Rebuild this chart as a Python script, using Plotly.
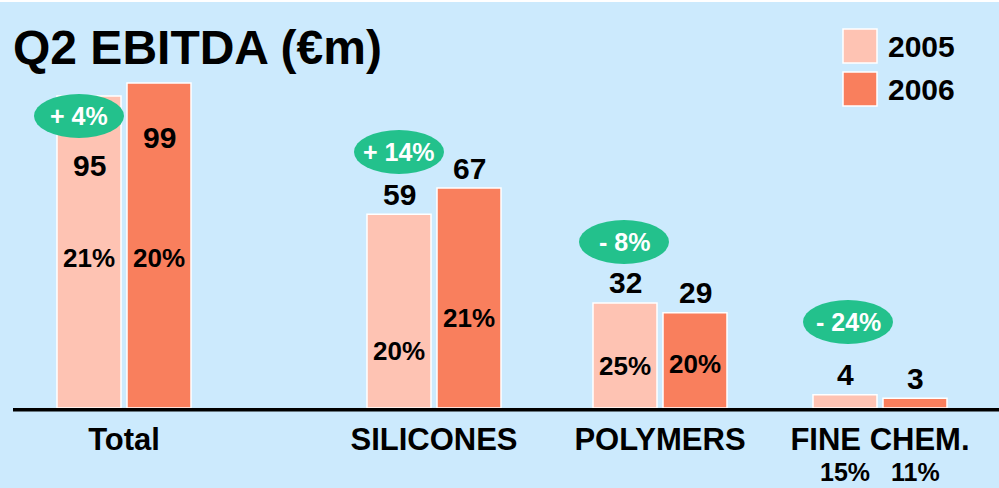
import plotly.graph_objects as go

# ---- data ----
categories = ["Total", "SILICONES", "POLYMERS", "FINE CHEM."]
series_names = ["2005", "2006"]
ebitda_2005 = [95, 59, 32, 4]
ebitda_2006 = [99, 67, 29, 3]
margin_2005 = ["21%", "20%", "25%", "15%"]
margin_2006 = ["20%", "21%", "20%", "11%"]
growth = ["+ 4%", "+ 14%", "- 8%", "- 24%"]

# ---- layout constants ----
W, H = 999, 488
BASE_PX = 408            # pixel row of the baseline
PX_PER_UNIT = 3.283
YMAX = BASE_PX / PX_PER_UNIT
x_pos = [124, 434, 660, 880]   # group centres (x axis runs in pixel units)
BAR_W = 64

C2005 = "#fec3b3"
C2006 = "#f97f5d"
BG = "#cceafd"
GREEN = "#23c18c"
FONT = "Liberation Sans, Arial, Helvetica, sans-serif"


def Y(py):
    """convert a pixel row to y data units"""
    return (BASE_PX - py) / PX_PER_UNIT


def P(py):
    """convert a pixel row to paper units"""
    return (BASE_PX - py) / BASE_PX


fig = go.Figure()
fig.add_trace(go.Bar(x=x_pos, y=ebitda_2005, name=series_names[0], width=BAR_W, offset=-67,
                     marker=dict(color=C2005, line=dict(color="white", width=1.5)),
                     hoverinfo="skip", showlegend=False))
fig.add_trace(go.Bar(x=x_pos, y=ebitda_2006, name=series_names[1], width=BAR_W, offset=3,
                     marker=dict(color=C2006, line=dict(color="white", width=1.5)),
                     hoverinfo="skip", showlegend=False))

ann = []
shapes = []

# value labels
shift_2005 = [-69, 20, 20, 20]
shift_2006 = [-55, 20, 20, 20]
for i, p in enumerate(x_pos):
    ann.append(dict(x=p - 35, y=ebitda_2005[i], yshift=shift_2005[i], text=f"<b>{ebitda_2005[i]}</b>",
                    showarrow=False, yanchor="middle", font=dict(size=30, color="black", family=FONT)))
    ann.append(dict(x=p + 35, y=ebitda_2006[i], yshift=shift_2006[i], text=f"<b>{ebitda_2006[i]}</b>",
                    showarrow=False, yanchor="middle", font=dict(size=30, color="black", family=FONT)))

# margin labels (paper y so labels below the axis are not hidden)
m05_py = [258, 351, 366, 472]
m06_py = [258, 318, 364, 472]
for i, p in enumerate(x_pos):
    sz = 26 if m05_py[i] < BASE_PX else 25
    ann.append(dict(x=p - 35, y=P(m05_py[i]), yref="paper", text=f"<b>{margin_2005[i]}</b>", showarrow=False,
                    yanchor="middle", borderpad=0, font=dict(size=sz, color="black", family=FONT)))
    ann.append(dict(x=p + 35, y=P(m06_py[i]), yref="paper", text=f"<b>{margin_2006[i]}</b>", showarrow=False,
                    yanchor="middle", borderpad=0, font=dict(size=sz, color="black", family=FONT)))

# growth ovals
oval_c = [(79, 116), (399, 152), (624, 242), (848, 322)]
for i, (cx, cy) in enumerate(oval_c):
    shapes.append(dict(type="circle", xref="x", yref="y", x0=cx - 45, x1=cx + 45,
                       y0=Y(cy + 22), y1=Y(cy - 22), fillcolor=GREEN, line=dict(width=0), layer="above"))
    ann.append(dict(x=cx, y=Y(cy), text=f"<b>{growth[i]}</b>", showarrow=False, yanchor="middle",
                    font=dict(size=25, color="white", family=FONT)))

# baseline (paper refs so it is not clipped by the plot area)
shapes.append(dict(type="line", xref="paper", yref="paper", x0=13 / W, x1=1, y0=P(409.7), y1=P(409.7),
                   line=dict(color="black", width=3.5), layer="above"))
# white strip at top
shapes.append(dict(type="rect", xref="paper", yref="paper", x0=0, x1=1, y0=P(2), y1=P(-2),
                   fillcolor="white", line=dict(width=0)))

# legend (custom, large squares)
leg = [(C2005, series_names[0], 46), (C2006, series_names[1], 89)]
for col, name, cy in leg:
    shapes.append(dict(type="rect", xref="x", yref="y", x0=843, x1=877, y0=Y(cy + 17), y1=Y(cy - 17),
                       fillcolor=col, line=dict(color="white", width=1.5)))
    ann.append(dict(x=886, y=Y(cy), text=f"<b>{name}</b>", showarrow=False, xanchor="left", yanchor="middle",
                    font=dict(size=30, color="black", family=FONT)))

# title
ann.append(dict(x=11, y=Y(47), text="<b>Q2 EBITDA (€m)</b>", showarrow=False, xanchor="left", yanchor="middle",
                font=dict(size=48, color="black", family=FONT)))

fig.update_layout(
    width=W, height=H,
    margin=dict(l=0, r=0, t=0, b=H - BASE_PX, pad=0),
    paper_bgcolor=BG, plot_bgcolor=BG,
    barmode="overlay",
    showlegend=False,
    annotations=ann, shapes=shapes,
    xaxis=dict(range=[0, W], tickvals=x_pos, ticktext=[f"<b>{c}</b>" for c in categories],
               ticks="outside", ticklen=4, tickcolor="rgba(0,0,0,0)",
               tickfont=dict(size=31, color="black", family=FONT),
               showgrid=False, zeroline=False, showline=False, fixedrange=True),
    yaxis=dict(range=[0, YMAX], visible=False, fixedrange=True),
    hovermode=False,
)

fig.write_html("out.html", config={"displayModeBar": False},
               post_script="document.body.style.margin='0';document.body.style.padding='0';"
                           "document.documentElement.style.overflow='hidden';")
